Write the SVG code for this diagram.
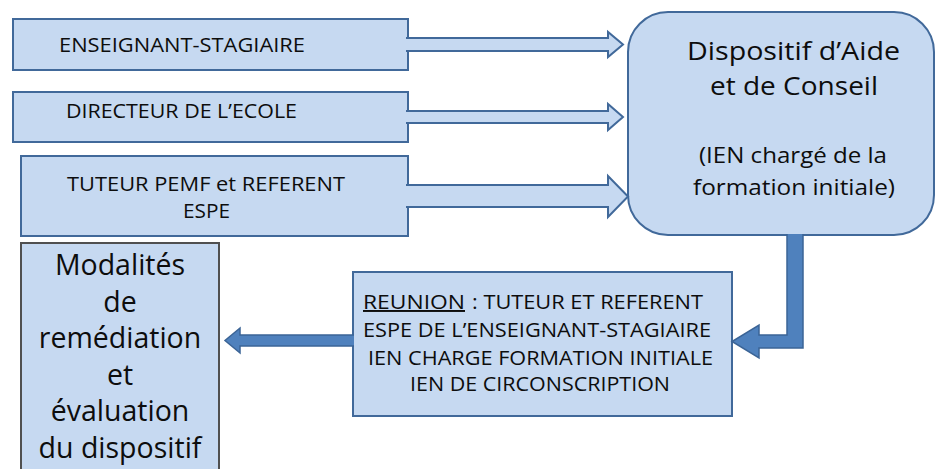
<svg xmlns="http://www.w3.org/2000/svg" width="936" height="469" viewBox="0 0 936 469">
<style>
.box{fill:#C6D9F1;stroke:#41699A;stroke-width:2}
.gbox{fill:#C6D9F1;stroke:#505050;stroke-width:2}
.t{font-family:"Open Sans","DejaVu Sans",sans-serif;fill:#0d0d0d}
.dbl{fill:#C6D9F1;stroke:#41699A;stroke-width:2;stroke-linejoin:miter}
.solid{fill:#4F81BD;stroke:#3B6496;stroke-width:1.5;stroke-linejoin:miter}
</style>
<rect width="936" height="469" fill="#FFFFFF"/>
<g id="n-enseignant">
<rect class="box" x="13" y="19" width="395" height="51"/>
<text class="t" x="59" y="52" font-size="19.5" textLength="246" lengthAdjust="spacingAndGlyphs">ENSEIGNANT-STAGIAIRE</text>
</g>
<g id="n-directeur">
<rect class="box" x="13" y="92" width="395" height="50"/>
<text class="t" x="66" y="118" font-size="19.5" textLength="231" lengthAdjust="spacingAndGlyphs">DIRECTEUR DE L’ECOLE</text>
</g>
<g id="n-tuteur">
<rect class="box" x="21" y="156" width="387" height="80"/>
<text class="t" x="67" y="191" font-size="19.5" textLength="278" lengthAdjust="spacingAndGlyphs">TUTEUR PEMF et REFERENT</text>
<text class="t" x="183" y="218" font-size="19.5" textLength="47" lengthAdjust="spacingAndGlyphs">ESPE</text>
</g>
<g id="n-dispositif">
<rect class="box" x="628" y="12" width="306" height="223" rx="40" ry="40"/>
<text class="t" x="687" y="60" font-size="26" textLength="213" lengthAdjust="spacingAndGlyphs">Dispositif d’Aide</text>
<text class="t" x="710" y="95" font-size="26" textLength="168" lengthAdjust="spacingAndGlyphs">et de Conseil</text>
<text class="t" x="699" y="163" font-size="21.5" textLength="188" lengthAdjust="spacingAndGlyphs">(IEN chargé de la</text>
<text class="t" x="693" y="195" font-size="21.5" textLength="202" lengthAdjust="spacingAndGlyphs">formation initiale)</text>
</g>
<g id="n-reunion">
<rect class="box" x="353" y="272" width="379" height="144"/>
<text class="t" x="363" y="309" font-size="19.5" textLength="102" lengthAdjust="spacingAndGlyphs" text-decoration="underline">REUNION</text>
<text class="t" x="472" y="309" font-size="19.5" textLength="231" lengthAdjust="spacingAndGlyphs">: TUTEUR ET REFERENT</text>
<text class="t" x="363" y="337" font-size="19.5" textLength="348" lengthAdjust="spacingAndGlyphs">ESPE DE L’ENSEIGNANT-STAGIAIRE</text>
<text class="t" x="368" y="365" font-size="19.5" textLength="345" lengthAdjust="spacingAndGlyphs">IEN CHARGE FORMATION INITIALE</text>
<text class="t" x="410" y="391" font-size="19.5" textLength="260" lengthAdjust="spacingAndGlyphs">IEN DE CIRCONSCRIPTION</text>
</g>
<g id="n-modalites">
<rect class="gbox" x="21" y="243" width="198" height="240"/>
<text class="t" x="120" y="275" font-size="28.5" text-anchor="middle">Modalités</text>
<text class="t" x="120" y="311.5" font-size="28.5" text-anchor="middle">de</text>
<text class="t" x="120" y="348" font-size="28.5" text-anchor="middle">remédiation</text>
<text class="t" x="120" y="384.5" font-size="28.5" text-anchor="middle">et</text>
<text class="t" x="120" y="420.5" font-size="28.5" text-anchor="middle">évaluation</text>
<text class="t" x="120" y="458" font-size="28.5" text-anchor="middle">du dispositif</text>
</g>
<g id="connectors">
<path class="dbl" d="M406,38 H608 V32 L623,44.5 L608,57 V51 H406"/>
<path class="dbl" d="M406,111 H608 V104 L623,117 L608,130 V123 H406"/>
<path class="dbl" d="M406,185 H608 V176 L628,196.5 L608,217 V207 H406"/>
<path class="solid" d="M787,234 V335 H759 V325 L732,341.5 L759,358 V348 H803 V234"/>
<path class="solid" d="M354,335 H240 V328 L225,340.5 L240,353 V346 H354"/>
</g>
</svg>
